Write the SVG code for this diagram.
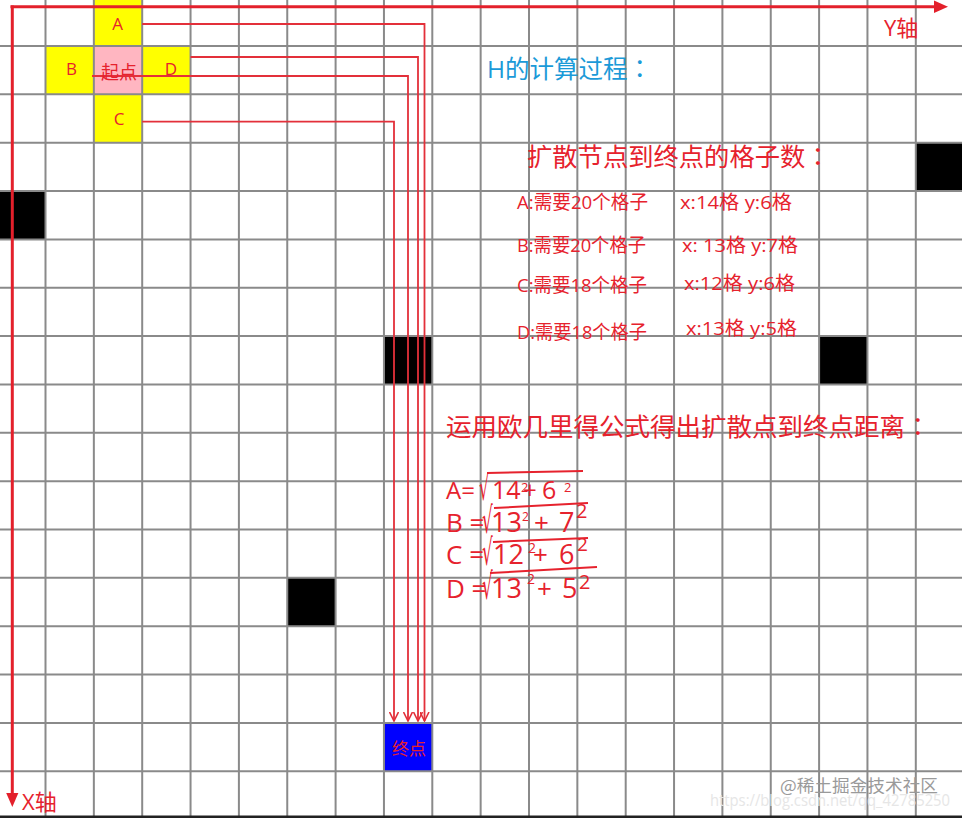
<svg xmlns="http://www.w3.org/2000/svg" width="962" height="818" viewBox="0 0 962 818">
<defs>
<style>
.grid{stroke:#8a8a8a;stroke-width:2;fill:none}
.yel{fill:#ffff00}
.blk{fill:#000}
.axis{stroke:#e3202b;stroke-width:3;fill:none}
.conn{stroke:#e3303a;stroke-width:1.8;fill:none}
.t{font-family:"Open Sans","Noto Sans CJK SC",sans-serif;fill:#e6222d}
.cjk{font-family:"Noto Sans CJK SC",sans-serif;fill:#e6222d}
.col{font-family:"Noto Sans CJK JP",sans-serif}
.blue{font-family:"Open Sans","Noto Sans CJK SC",sans-serif;fill:#1b9ad8}
.rad{font-family:"DejaVu Sans",sans-serif;fill:#e6222d}
.vin{stroke:#e6222d;stroke-width:2;fill:none}
</style>
<marker id="arr" viewBox="0 0 10 10" refX="9.5" refY="5" markerWidth="10" markerHeight="10" markerUnits="userSpaceOnUse" orient="auto">
<path d="M0.5,0.5 L9.5,5 L0.5,9.5" fill="none" stroke="#e3303a" stroke-width="1.6"/>
</marker>
</defs>
<rect x="0" y="0" width="962" height="818" fill="#fff"/>
<g id="cells">
<rect id="cellA" class="yel" x="93.85" y="-3" width="48.35" height="49"/>
<rect id="cellB" class="yel" x="45.5" y="46" width="48.35" height="48.35"/>
<rect id="cellStart" fill="#ffb6c1" x="93.85" y="46" width="48.35" height="48.35"/>
<rect id="cellD" class="yel" x="142.2" y="46" width="48.35" height="48.35"/>
<rect id="cellC" class="yel" x="93.85" y="94.35" width="48.35" height="48.35"/>
<rect class="blk" x="-3" y="191.05" width="48.5" height="48.35"/>
<rect class="blk" x="915.8" y="142.7" width="48.35" height="48.35"/>
<rect class="blk" x="383.95" y="336.1" width="48.35" height="48.35"/>
<rect class="blk" x="819.1" y="336.1" width="48.35" height="48.35"/>
<rect class="blk" x="287.25" y="577.85" width="48.35" height="48.35"/>
<rect id="cellEnd" fill="#0000ff" x="383.95" y="722.9" width="48.35" height="48.35"/>
</g>
<path class="grid" d="M45.5,0V818M93.85,0V818M142.2,0V818M190.55,0V818M238.9,0V818M287.25,0V818M335.6,0V818M383.95,0V818M432.3,0V818M480.65,0V818M529,0V818M577.35,0V818M625.7,0V818M674.05,0V818M722.4,0V818M770.75,0V818M819.1,0V818M867.45,0V818M915.8,0V818
M0,46H962M0,94.35H962M0,142.7H962M0,191.05H962M0,239.4H962M0,287.75H962M0,336.1H962M0,384.45H962M0,432.8H962M0,481.15H962M0,529.5H962M0,577.85H962M0,626.2H962M0,674.55H962M0,722.9H962M0,771.25H962"/>
<rect x="0" y="815.5" width="962" height="2.5" fill="#222"/>
<g id="axes">
<path class="axis" d="M10.5,6.7H936"/>
<path d="M948,6.7 L934,0.5 L934,12.9Z" fill="#e3202b"/>
<path class="axis" d="M12.3,5.5V795"/>
<path d="M12.3,807 L6.2,793 L18.4,793Z" fill="#e3202b"/>
<text class="t" x="884" y="36" font-size="22">Y轴</text>
<text class="t" x="22" y="810" font-size="22">X轴</text>
</g>
<g id="connectors">
<path class="conn" d="M142.2,24H424.5V721" marker-end="url(#arr)"/>
<path class="conn" d="M190.5,57H418V721" marker-end="url(#arr)"/>
<path class="conn" d="M92,76H408V721" marker-end="url(#arr)"/>
<path class="conn" d="M142.2,121.7H394V721" marker-end="url(#arr)"/>
</g>
<g id="labels">
<text class="t" x="117.5" y="29.5" font-size="17" text-anchor="middle">A</text>
<text class="t" x="71.5" y="74.5" font-size="17" text-anchor="middle">B</text>
<text class="t" x="171" y="74.5" font-size="17" text-anchor="middle">D</text>
<text class="t" x="119" y="125" font-size="17" text-anchor="middle">C</text>
<text class="cjk" x="119" y="79" font-size="18" text-anchor="middle">起点</text>
<text class="cjk" x="409" y="755" font-size="17" text-anchor="middle">终点</text>
</g>
<g id="notes">
<text class="blue" x="487" y="78" font-size="24.5">H的计算过程<tspan class="col">：</tspan></text>
<text class="cjk" x="527" y="166" font-size="25.3">扩散节点到终点的格子数<tspan class="col">：</tspan></text>
<text class="t" x="517" y="209" font-size="19" textLength="131" lengthAdjust="spacingAndGlyphs">A:需要20个格子</text>
<text class="t" x="680" y="209" font-size="19" textLength="112" lengthAdjust="spacingAndGlyphs">x:14格 y:6格</text>
<text class="t" x="517" y="252" font-size="19" textLength="129" lengthAdjust="spacingAndGlyphs">B:需要20个格子</text>
<text class="t" x="682" y="252" font-size="19" textLength="116" lengthAdjust="spacingAndGlyphs">x: 13格 y:7格</text>
<text class="t" x="517" y="292" font-size="19" textLength="130" lengthAdjust="spacingAndGlyphs">C:需要18个格子</text>
<text class="t" x="684" y="290" font-size="19" textLength="111" lengthAdjust="spacingAndGlyphs">x:12格 y:6格</text>
<text class="t" x="517" y="339" font-size="19" textLength="130" lengthAdjust="spacingAndGlyphs">D:需要18个格子</text>
<text class="t" x="686" y="335" font-size="19" textLength="111" lengthAdjust="spacingAndGlyphs">x:13格 y:5格</text>
<text class="cjk" x="446" y="436" font-size="25.5">运用欧几里得公式得出扩散点到终点距离<tspan class="col">：</tspan></text>
</g>
<g id="formulas">
<text class="t" x="446" y="499" font-size="24">A=</text>
<text class="rad" transform="translate(479,500) scale(0.6,1.3)" font-size="26">√</text>
<text class="t" x="492" y="499" font-size="25">14</text>
<text class="t" x="521" y="492" font-size="13">2</text>
<text class="t" x="523" y="499" font-size="24">+</text>
<text class="t" x="542" y="499" font-size="25">6</text>
<text class="t" x="564" y="492" font-size="13">2</text>
<path class="vin" d="M487,473L583,471"/>

<text class="t" x="446" y="532" font-size="26">B =</text>
<text class="rad" transform="translate(482,533) scale(0.6,1.3)" font-size="28">√</text>
<text class="t" x="491" y="532" font-size="27">13</text>
<text class="t" x="522" y="521" font-size="12">2</text>
<text class="t" x="534" y="532" font-size="26">+</text>
<text class="t" x="559" y="532" font-size="27">7</text>
<text class="t" x="576" y="518" font-size="20">2</text>
<path class="vin" d="M494,508L588,503"/>

<text class="t" x="446" y="564" font-size="26">C =</text>
<text class="rad" transform="translate(482,565) scale(0.6,1.3)" font-size="28">√</text>
<text class="t" x="493" y="564" font-size="27">12</text>
<text class="t" x="528" y="553" font-size="14">2</text>
<text class="t" x="533" y="564" font-size="26">+</text>
<text class="t" x="559" y="564" font-size="27">6</text>
<text class="t" x="577" y="551" font-size="19">2</text>
<path class="vin" d="M493,542L588,538"/>

<text class="t" x="446" y="598" font-size="26">D =</text>
<text class="rad" transform="translate(482,599) scale(0.6,1.3)" font-size="28">√</text>
<text class="t" x="491" y="598" font-size="27">13</text>
<text class="t" x="527" y="584" font-size="14">2</text>
<text class="t" x="537" y="598" font-size="26">+</text>
<text class="t" x="562" y="598" font-size="27">5</text>
<text class="t" x="579" y="589" font-size="20">2</text>
<path class="vin" d="M490,573L597,567"/>
</g>
<g id="watermark">
<text x="780" y="792" font-size="17" font-family="Noto Sans CJK SC,sans-serif" fill="#9a9a9a" textLength="158" lengthAdjust="spacingAndGlyphs">@稀土掘金技术社区</text>
<text x="710" y="806" font-size="16" font-family="Open Sans,sans-serif" fill="#e6e6e6" textLength="240" lengthAdjust="spacingAndGlyphs">https://blog.csdn.net/qq_42785250</text>
</g>
</svg>
